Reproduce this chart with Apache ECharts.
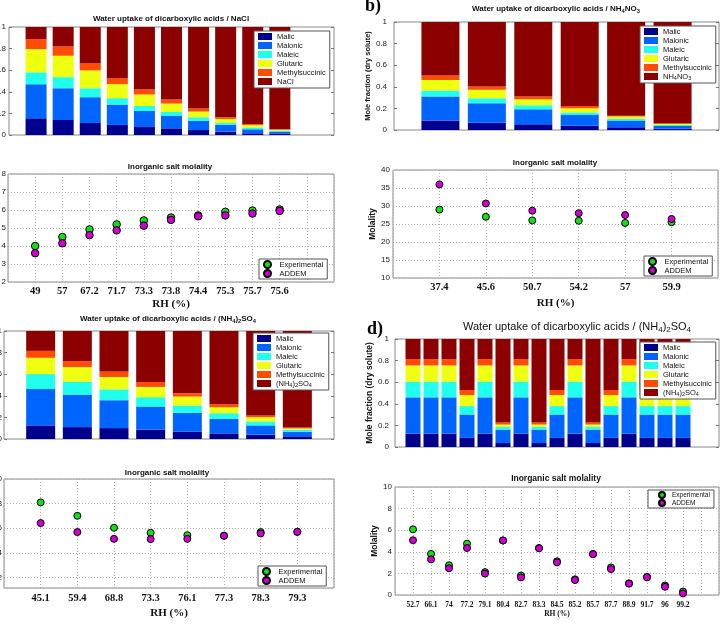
<!DOCTYPE html>
<html>
<head>
<meta charset="utf-8">
<script src="https://cdn.jsdelivr.net/npm/echarts@6/dist/echarts.min.js"></script>
<style>
html, body { margin: 0; padding: 0; background: #fff; }
#main { width: 724px; height: 626px; }
</style>
</head>
<body>
<div id="main"></div>
<script>
var SANS = 'Liberation Sans, Arial, sans-serif';
var SERIF = 'Liberation Serif, Times New Roman, serif';

var acids = ['Malic', 'Malonic', 'Maleic', 'Glutaric', 'Methylsuccinic'];
var colors = ['#00008f', '#0064ff', '#20ffee', '#eeff10', '#ff4c00', '#8c0000'];

// a) NaCl
var rhA = ['49', '57', '67.2', '71.7', '73.3', '73.8', '74.4', '75.3', '75.7', '75.6'];
var malicA = [0.155, 0.139, 0.111, 0.093, 0.074, 0.062, 0.046, 0.031, 0.016, 0.010];
var malonicA = [0.315, 0.294, 0.239, 0.189, 0.149, 0.118, 0.087, 0.065, 0.037, 0.022];
var maleicA = [0.110, 0.103, 0.083, 0.059, 0.046, 0.034, 0.031, 0.015, 0.016, 0.008];
var glutaricA = [0.215, 0.198, 0.165, 0.130, 0.106, 0.077, 0.053, 0.038, 0.022, 0.010];
var methylA = [0.093, 0.086, 0.065, 0.055, 0.049, 0.037, 0.028, 0.015, 0.010, 0.004];
var saltA = [0.112, 0.180, 0.337, 0.474, 0.576, 0.672, 0.755, 0.836, 0.899, 0.946];
var expA = [4.0, 4.5, 4.92, 5.2, 5.42, 5.58, 5.7, 5.9, 5.97, 6.03];
var addemA = [3.6, 4.15, 4.6, 4.87, 5.13, 5.45, 5.65, 5.7, 5.8, 5.95];

// b) NH4NO3
var rhB = ['37.4', '45.6', '50.7', '54.2', '57', '59.9'];
var malicB = [0.087, 0.068, 0.053, 0.040, 0.025, 0.012];
var malonicB = [0.223, 0.180, 0.139, 0.099, 0.062, 0.025];
var maleicB = [0.055, 0.046, 0.037, 0.022, 0.015, 0.009];
var glutaricB = [0.099, 0.078, 0.056, 0.040, 0.022, 0.010];
var methylB = [0.041, 0.030, 0.025, 0.022, 0.009, 0.006];
var saltB = [0.495, 0.598, 0.690, 0.777, 0.867, 0.938];
var expB = [29.0, 27.0, 26.0, 25.9, 25.3, 25.5];
var addemB = [36.0, 30.7, 28.7, 28.0, 27.5, 26.4];

// c) (NH4)2SO4
var rhC = ['45.1', '59.4', '68.8', '73.3', '76.1', '77.3', '78.3', '79.3'];
var malicC = [0.126, 0.110, 0.101, 0.086, 0.067, 0.052, 0.040, 0.025];
var malonicC = [0.337, 0.301, 0.258, 0.215, 0.175, 0.135, 0.086, 0.042];
var maleicC = [0.138, 0.120, 0.101, 0.086, 0.068, 0.052, 0.037, 0.019];
var glutaricC = [0.151, 0.135, 0.114, 0.095, 0.083, 0.055, 0.039, 0.012];
var methylC = [0.064, 0.055, 0.052, 0.046, 0.030, 0.028, 0.016, 0.009];
var saltC = [0.184, 0.279, 0.374, 0.472, 0.577, 0.678, 0.782, 0.893];
var expC = [8.1, 7.01, 6.04, 5.63, 5.44, 5.4, 5.69, 5.71];
var addemC = [6.42, 5.69, 5.14, 5.12, 5.14, 5.39, 5.58, 5.71];

// d) (NH4)2SO4, mixtures
var rhD = ['52.7', '66.1', '74', '77.2', '79.1', '80.4', '82.7', '83.3', '84.5', '85.2', '85.7', '87.7', '88.9', '91.7', '96', '99.2'];
var malicD = [0.124, 0.124, 0.124, 0.084, 0.124, 0.037, 0.124, 0.037, 0.084, 0.124, 0.037, 0.084, 0.124, 0.084, 0.084, 0.084];
var malonicD = [0.336, 0.336, 0.336, 0.217, 0.336, 0.124, 0.336, 0.124, 0.217, 0.336, 0.124, 0.217, 0.336, 0.217, 0.217, 0.217];
var maleicD = [0.146, 0.146, 0.146, 0.078, 0.146, 0.025, 0.146, 0.025, 0.078, 0.146, 0.025, 0.078, 0.146, 0.078, 0.078, 0.078];
var glutaricD = [0.149, 0.149, 0.149, 0.102, 0.149, 0.022, 0.149, 0.022, 0.102, 0.149, 0.022, 0.102, 0.149, 0.102, 0.102, 0.102];
var methylD = [0.059, 0.059, 0.059, 0.047, 0.059, 0.019, 0.059, 0.019, 0.047, 0.059, 0.019, 0.047, 0.059, 0.047, 0.047, 0.047];
var saltD = [0.186, 0.186, 0.186, 0.472, 0.186, 0.773, 0.186, 0.773, 0.472, 0.186, 0.773, 0.472, 0.186, 0.472, 0.472, 0.472];
var expD = [6.08, 3.8, 2.75, 4.75, 2.12, 5.05, 1.8, 4.35, 3.12, 1.45, 3.8, 2.55, 1.08, 1.68, 0.88, 0.32];
var addemD = [5.07, 3.3, 2.47, 4.35, 1.98, 5.05, 1.63, 4.33, 3.02, 1.38, 3.78, 2.4, 1.05, 1.63, 0.76, 0.15];

var grids = [], xAxes = [], yAxes = [], series = [], legends = [], titles = [];

// category slots: empty slot at 0, then the RH values, then empty slots to the right
function slots(rh, after) {
    var c = [''];
    rh.forEach(function (r) { c.push(r); });
    for (var k = 1; k <= after; k++) c.push(new Array(k + 1).join(' '));
    return c;
}
function pairs(vals) {
    return vals.map(function (v, i) { return [i + 1, v]; });
}
function chem(name) {
    if (name === 'NH4NO3') return 'NH{s|4}NO{s|3}';
    if (name === '(NH4)2SO4') return '(NH{s|4}){s|2}SO{s|4}';
    return name;
}
function addTitle(text, cx, cy, size, weight) {
    var lh = size + 2;
    titles.push({
        text: text, left: cx, top: cy - lh / 2, textAlign: 'center', padding: 0,
        textStyle: {
            fontFamily: SANS, fontSize: size, fontWeight: weight, color: '#111', lineHeight: lh,
            rich: { s: { fontSize: size * 0.72, lineHeight: 3, verticalAlign: 'bottom', fontWeight: weight } }
        }
    });
}
function addGrid(p) {
    grids.push({ left: p.left, top: p.top, width: p.width, height: p.height, show: true,
        outerBoundsMode: 'none', containLabel: false,
        borderColor: '#8a8a8a', borderWidth: 1, backgroundColor: '#fff' });
    return grids.length - 1;
}

function barPanel(p) {
    var g = addGrid(p);
    xAxes.push({ type: 'category', gridIndex: g, data: slots(p.rh, p.after), boundaryGap: false,
        axisLine: { show: false }, axisTick: { show: false }, axisLabel: { show: false }, splitLine: { show: false } });
    var yi = yAxes.length;
    yAxes.push({ type: 'value', gridIndex: g, min: 0, max: 1, interval: 0.2,
        axisLine: { show: false },
        axisTick: { show: true, inside: true, length: 3, lineStyle: { color: '#777' } },
        axisLabel: { margin: p.labelMargin, fontSize: 8, color: '#222', fontFamily: SANS },
        splitLine: { show: false },
        name: p.yName || '', nameLocation: 'middle', nameGap: p.nameGap || 0,
        nameTextStyle: { fontFamily: SANS, fontSize: p.nameSize || 8, fontWeight: 'bold', color: '#111' } });
    yAxes.push({ type: 'value', gridIndex: g, position: 'right', min: 0, max: 1, interval: 0.2,
        axisLine: { show: false },
        axisTick: { show: true, inside: true, length: 3, lineStyle: { color: '#777' } },
        axisLabel: { show: false }, splitLine: { show: false } });
    var names = acids.concat([p.salt]);
    p.bars.forEach(function (vals, k) {
        series.push({ type: 'bar', name: names[k], xAxisIndex: g, yAxisIndex: yi, stack: 'mf' + g,
            barWidth: p.barWidth, data: pairs(vals), itemStyle: { color: colors[k] }, silent: true });
    });
    addTitle(p.title, p.titleX, p.titleY, p.titleSize, p.titleWeight);
    legends.push({
        orient: 'vertical', left: p.legLeft, top: p.legTop, itemWidth: 14, itemHeight: 7, itemGap: 0,
        padding: [1, 4, 2, 4], borderColor: '#555', borderWidth: 1, backgroundColor: '#fff',
        selectedMode: false, formatter: chem,
        textStyle: { fontFamily: SANS, fontSize: 7.5, lineHeight: 9, color: '#111',
            rich: { s: { fontSize: 5.5, lineHeight: 3, verticalAlign: 'bottom' } } },
        data: names.map(function (n) { return { name: n, icon: 'rect' }; })
    });
}

function scatterPanel(p) {
    var g = addGrid(p);
    xAxes.push({ type: 'category', gridIndex: g, data: slots(p.rh, p.after), boundaryGap: false,
        axisLine: { show: false }, axisTick: { show: false },
        axisLabel: { interval: 0, margin: p.xMargin, fontFamily: SERIF, fontWeight: 'bold',
            fontSize: p.xSize, color: '#111' },
        splitLine: { show: true, interval: 0, lineStyle: { color: '#b0b0b0', type: [1, 2] } },
        name: 'RH (%)', nameLocation: 'middle', nameGap: p.rhGap,
        nameTextStyle: { fontFamily: SERIF, fontWeight: 'bold', fontSize: p.rhSize, color: '#111' } });
    var y = { type: 'value', gridIndex: g, min: p.min, max: p.max,
        axisLine: { show: false }, axisTick: { show: false },
        axisLabel: { margin: p.labelMargin, fontSize: 8, color: '#222', fontFamily: SANS, showMinLabel: p.showMin !== false },
        splitLine: { show: true, lineStyle: { color: '#b0b0b0', type: [1, 2] } },
        name: p.yName || '', nameLocation: 'middle', nameGap: p.nameGap || 0,
        nameTextStyle: { fontFamily: SANS, fontSize: 8.5, fontWeight: 'bold', color: '#111' } };
    if (p.interval) y.interval = p.interval; else y.splitNumber = 5;
    var yi = yAxes.length;
    yAxes.push(y);
    series.push({ type: 'scatter', name: 'Experimental', xAxisIndex: g, yAxisIndex: yi, symbolSize: p.sym,
        data: pairs(p.exp), itemStyle: { color: '#12e012', borderColor: '#000', borderWidth: 1, opacity: 1 }, silent: true });
    series.push({ type: 'scatter', name: 'ADDEM', xAxisIndex: g, yAxisIndex: yi, symbolSize: p.sym,
        data: pairs(p.addem), itemStyle: { color: '#d000d0', borderColor: '#000', borderWidth: 1, opacity: 1 }, silent: true });
    addTitle('Inorganic salt molality', p.titleX, p.titleY, p.titleSize, 'bold');
    legends.push({
        orient: 'vertical', left: p.legLeft, top: p.legTop, itemWidth: p.legIconW, itemHeight: p.legIconH, itemGap: 0,
        padding: p.legPad, borderColor: '#555', borderWidth: 1, backgroundColor: '#fff', selectedMode: false,
        textStyle: { fontFamily: SANS, fontSize: p.legFont, lineHeight: p.legLine, color: '#111' },
        data: [{ name: 'Experimental', icon: 'circle' }, { name: 'ADDEM', icon: 'circle' }]
    });
}

// a)
barPanel({ left: 9, top: 27, width: 325, height: 108, rh: rhA, after: 2, barWidth: 21, labelMargin: 3,
    bars: [malicA, malonicA, maleicA, glutaricA, methylA, saltA], salt: 'NaCl',
    title: 'Water uptake of dicarboxylic acids / NaCl', titleX: 171, titleY: 19, titleSize: 8, titleWeight: 'bold',
    legLeft: 254, legTop: 31 });
scatterPanel({ left: 8, top: 174, width: 326, height: 108, rh: rhA, after: 2, exp: expA, addem: addemA,
    min: 2, max: 8, interval: 1, labelMargin: 2, xMargin: 4, xSize: 10.5, rhGap: 17, rhSize: 11, sym: 7.5,
    titleX: 170, titleY: 167, titleSize: 8,
    legLeft: 259, legTop: 259, legIconW: 14, legIconH: 7, legPad: [1, 4, 1, 4], legFont: 7.5, legLine: 9 });

// b)
barPanel({ left: 394, top: 22, width: 325, height: 108, rh: rhB, after: 1, barWidth: 38, labelMargin: 7,
    yName: 'Mole fraction (dry solute)', nameGap: 16, nameSize: 7.5,
    bars: [malicB, malonicB, maleicB, glutaricB, methylB, saltB], salt: 'NH4NO3',
    title: 'Water uptake of dicarboxylic acids / NH{s|4}NO{s|3}', titleX: 556, titleY: 9, titleSize: 8, titleWeight: 'bold',
    legLeft: 640, legTop: 26 });
scatterPanel({ left: 393, top: 170, width: 325, height: 108, rh: rhB, after: 1, exp: expB, addem: addemB,
    min: 10, max: 40, interval: 5, labelMargin: 3, xMargin: 4, xSize: 10.5, rhGap: 20, rhSize: 11, sym: 7,
    yName: 'Molality', nameGap: 13,
    titleX: 555, titleY: 163, titleSize: 8,
    legLeft: 644, legTop: 256, legIconW: 14, legIconH: 7, legPad: [1, 4, 1, 4], legFont: 7.5, legLine: 9 });

// c)
barPanel({ left: 4, top: 331, width: 330, height: 108, rh: rhC, after: 1, barWidth: 29, labelMargin: 2,
    bars: [malicC, malonicC, maleicC, glutaricC, methylC, saltC], salt: '(NH4)2SO4',
    title: 'Water uptake of dicarboxylic acids / (NH{s|4}){s|2}SO{s|4}', titleX: 168, titleY: 319, titleSize: 8, titleWeight: 'bold',
    legLeft: 253, legTop: 333 });
scatterPanel({ left: 4, top: 479, width: 330, height: 109, rh: rhC, after: 1, exp: expC, addem: addemC,
    min: 1.15, max: 10, labelMargin: 2, showMin: false, xMargin: 5, xSize: 10.5, rhGap: 20, rhSize: 11, sym: 7,
    titleX: 167, titleY: 473, titleSize: 8,
    legLeft: 258, legTop: 566, legIconW: 14, legIconH: 7, legPad: [1, 4, 1, 4], legFont: 7.5, legLine: 9 });

// d)
barPanel({ left: 395, top: 339, width: 324, height: 108, rh: rhD, after: 2, barWidth: 15, labelMargin: 6,
    yName: 'Mole fraction (dry solute)', nameGap: 16, nameSize: 8.5,
    bars: [malicD, malonicD, maleicD, glutaricD, methylD, saltD], salt: '(NH4)2SO4',
    title: 'Water uptake of dicarboxylic acids / (NH{s|4}){s|2}SO{s|4}', titleX: 577, titleY: 327, titleSize: 11, titleWeight: 'normal',
    legLeft: 640, legTop: 342 });
scatterPanel({ left: 395, top: 487, width: 324, height: 108, rh: rhD, after: 2, exp: expD, addem: addemD,
    min: 0, max: 10, interval: 2, labelMargin: 3, xMargin: 6, xSize: 7.5, rhGap: 15, rhSize: 7.5, sym: 7,
    yName: 'Molality', nameGap: 13,
    titleX: 556, titleY: 479, titleSize: 8.5,
    legLeft: 648, legTop: 490, legIconW: 10, legIconH: 6, legPad: [1, 4, 1, 10], legFont: 6.5, legLine: 7.5 });

// panel letters
titles.push({ text: 'b)', left: 365, top: -3, padding: 0,
    textStyle: { fontFamily: SERIF, fontWeight: 'bold', fontSize: 18, lineHeight: 18, color: '#000' } });
titles.push({ text: 'd)', left: 367, top: 320, padding: 0,
    textStyle: { fontFamily: SERIF, fontWeight: 'bold', fontSize: 18, lineHeight: 18, color: '#000' } });

var chart = echarts.init(document.getElementById('main'));
chart.setOption({
    animation: false,
    backgroundColor: '#fff',
    title: titles,
    legend: legends,
    grid: grids,
    xAxis: xAxes,
    yAxis: yAxes,
    series: series
});
</script>
</body>
</html>
